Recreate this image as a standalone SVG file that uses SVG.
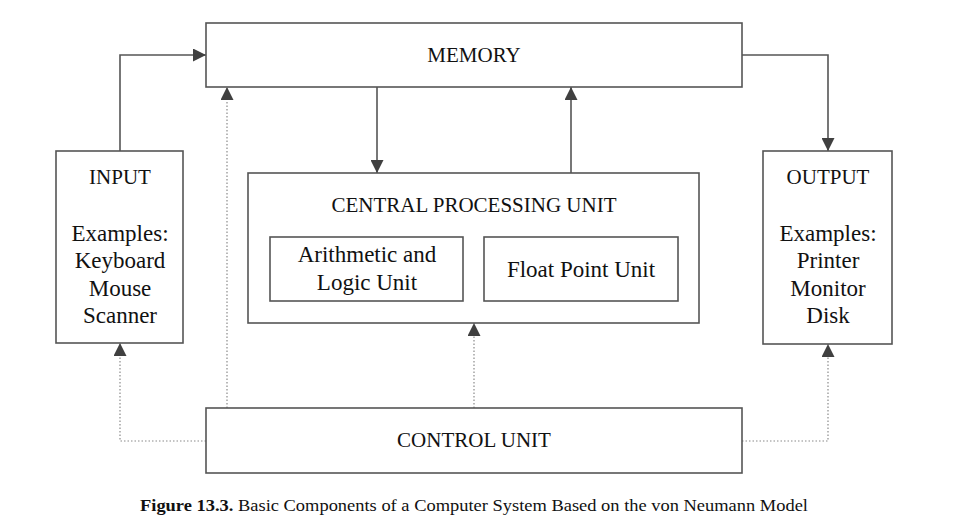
<svg xmlns="http://www.w3.org/2000/svg" width="956" height="529" viewBox="0 0 956 529">
<style>
.box{fill:#fff;stroke:#555;stroke-width:1.6}
.ln{fill:none;stroke:#555;stroke-width:1.6}
.dot{fill:none;stroke:#8a8a8a;stroke-width:1.2;stroke-dasharray:1.5 2}
text{font-family:"Liberation Serif","Times New Roman",serif;fill:#111;text-anchor:middle}
.cap{font-size:21px}
.t{font-size:23px}
</style>
<defs>
<marker id="ah" viewBox="0 0 13 13" refX="13" refY="6.5" markerWidth="13" markerHeight="13" markerUnits="userSpaceOnUse" orient="auto">
<path d="M0,0 L13,6.5 L0,13 Z" fill="#404040"/>
</marker>
</defs>
<rect width="956" height="529" fill="#fff"/>
<g id="connectors">
<path class="ln" d="M120,151 V55 H206" marker-end="url(#ah)"/>
<path class="ln" d="M742,55 H828 V151" marker-end="url(#ah)"/>
<path class="ln" d="M377,87 V173" marker-end="url(#ah)"/>
<path class="ln" d="M571,173 V87" marker-end="url(#ah)"/>
<path class="dot" d="M227,408 V87" marker-end="url(#ah)"/>
<path class="dot" d="M474,408 V323" marker-end="url(#ah)"/>
<path class="dot" d="M206,441 H120 V343" marker-end="url(#ah)"/>
<path class="dot" d="M742,441 H828 V344" marker-end="url(#ah)"/>
</g>
<g id="memory">
<rect class="box" x="206" y="23" width="536" height="64"/>
<text class="cap" x="474" y="62">MEMORY</text>
</g>
<g id="input">
<rect class="box" x="56" y="151" width="127" height="192"/>
<text class="cap" x="120" y="184">INPUT</text>
<text class="t" x="120" y="241">Examples:</text>
<text class="t" x="120" y="268">Keyboard</text>
<text class="t" x="120" y="296">Mouse</text>
<text class="t" x="120" y="323">Scanner</text>
</g>
<g id="output">
<rect class="box" x="763" y="151" width="129" height="193"/>
<text class="cap" x="828" y="184">OUTPUT</text>
<text class="t" x="828" y="241">Examples:</text>
<text class="t" x="828" y="268">Printer</text>
<text class="t" x="828" y="296">Monitor</text>
<text class="t" x="828" y="323">Disk</text>
</g>
<g id="cpu">
<rect class="box" x="248" y="173" width="451" height="150"/>
<text class="cap" x="474" y="212">CENTRAL PROCESSING UNIT</text>
</g>
<g id="alu">
<rect class="box" x="270" y="237" width="193" height="64"/>
<text class="t" x="367" y="262">Arithmetic and</text>
<text class="t" x="367" y="290">Logic Unit</text>
</g>
<g id="fpu">
<rect class="box" x="484" y="237" width="194" height="64"/>
<text class="t" x="581" y="277">Float Point Unit</text>
</g>
<g id="control">
<rect class="box" x="206" y="408" width="536" height="65"/>
<text class="cap" x="474" y="447">CONTROL UNIT</text>
</g>
<text x="474" y="511" font-size="16.5" textLength="668" lengthAdjust="spacingAndGlyphs"><tspan font-weight="bold">Figure 13.3.</tspan> Basic Components of a Computer System Based on the von Neumann Model</text>
</svg>
